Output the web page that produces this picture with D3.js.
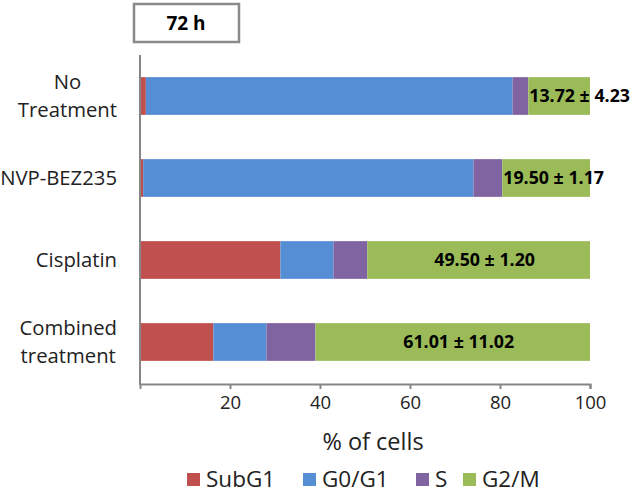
<!DOCTYPE html>
<html>
<head>
<meta charset="utf-8">
<script src="https://cdn.jsdelivr.net/npm/d3@7"></script>
<style>
  body { margin: 0; background: #fff; }
  svg { display: block; font-family: "Open Sans", "Noto Sans", sans-serif; }
</style>
</head>
<body>
<svg id="chart" width="633" height="493"></svg>
<script>
const categories = ["No Treatment", "NVP-BEZ235", "Cisplatin", "Combined treatment"];
const categoryLines = [["No", "Treatment"], ["NVP-BEZ235"], ["Cisplatin"], ["Combined", "treatment"]];
const seriesNames = ["SubG1", "G0/G1", "S", "G2/M"];
const subG1 = [1.3, 0.7, 31.2, 16.3];
const g0g1 = [81.5, 73.4, 11.8, 11.8];
const sPhase = [3.48, 6.4, 7.5, 10.89];
const g2m = [13.72, 19.50, 49.50, 61.01];
const g2mLabels = ["13.72 ± 4.23", "19.50 ± 1.17", "49.50 ± 1.20", "61.01 ± 11.02"];
const xTicks = [20, 40, 60, 80, 100];
const colors = ["#C0504D", "#558ED5", "#8064A2", "#9BBB59"];
const title = "72 h";

const svg = d3.select("#chart");
const x = d3.scaleLinear().domain([0, 100]).range([140, 590]);
const y = d3.scaleBand().domain(categories).range([55, 383]).paddingInner(0.54).paddingOuter(0.27);

const rows = categories.map((c, i) => {
  const vals = [subG1[i], g0g1[i], sPhase[i], g2m[i]];
  let acc = 0;
  return { cat: c, segs: vals.map((v, k) => { const s = { k, x0: acc, x1: acc + v, v }; acc += v; return s; }) };
});

// bars
const g = svg.append("g");
rows.forEach((r, i) => {
  g.selectAll(null).data(r.segs).enter().append("rect")
    .attr("x", d => x(d.x0))
    .attr("y", y(r.cat))
    .attr("width", d => Math.max(0, x(Math.min(d.x1, 100)) - x(d.x0)))
    .attr("height", y.bandwidth())
    .attr("fill", d => colors[d.k]);
});

// value labels on G2/M
rows.forEach((r, i) => {
  const s = r.segs[3];
  const t = svg.append("text")
    .attr("y", y(r.cat) + y.bandwidth() / 2)
    .attr("dy", "0.36em")
    .attr("font-size", 17.8)
    .attr("font-weight", "bold")
    .attr("fill", "#000")
    .text(g2mLabels[i]);
  const w = t.node().getComputedTextLength();
  const segW = x(Math.min(s.x1, 100)) - x(s.x0);
  if (w > segW - 4) {
    t.attr("x", x(s.x0) + 1).attr("text-anchor", "start");
  } else {
    t.attr("x", (x(s.x0) + x(Math.min(s.x1, 100))) / 2 + 6).attr("text-anchor", "middle");
  }
});

// x axis
const xAxis = d3.axisBottom(x).tickValues(xTicks).tickSize(5).tickSizeOuter(5).tickPadding(7);
const ax = svg.append("g").attr("transform", "translate(0,384)").call(xAxis);
ax.select(".domain").attr("stroke", "#868686").attr("stroke-width", 2);
ax.selectAll(".tick line").attr("stroke", "#868686").attr("stroke-width", 2);
ax.selectAll(".tick text").attr("font-size", 18.5).attr("fill", "#222").attr("font-family", "'Open Sans', sans-serif");

// y axis line
svg.append("line")
  .attr("x1", x(0)).attr("x2", x(0))
  .attr("y1", 55).attr("y2", 385)
  .attr("stroke", "#868686").attr("stroke-width", 2);

// category labels
categoryLines.forEach((lines, i) => {
  const cy = y(categories[i]) + y.bandwidth() / 2;
  const lh = 28;
  const texts = lines.map((l, j) => svg.append("text")
    .attr("font-size", 20.3)
    .attr("fill", "#222")
    .attr("text-anchor", "middle")
    .attr("y", cy + (j - (lines.length - 1) / 2) * lh)
    .attr("dy", "0.36em")
    .text(l));
  const maxW = d3.max(texts, t => t.node().getComputedTextLength());
  texts.forEach(t => t.attr("x", 117 - maxW / 2));
});

// axis title
svg.append("text")
  .attr("x", 373).attr("y", 450)
  .attr("text-anchor", "middle")
  .attr("font-size", 23.5)
  .attr("fill", "#222")
  .text("% of cells");

// legend
const legendX = [187, 303, 416, 463];
const lg = svg.append("g");
seriesNames.forEach((n, k) => {
  lg.append("rect").attr("x", legendX[k]).attr("y", 473).attr("width", 13).attr("height", 13).attr("fill", colors[k]);
  lg.append("text").attr("x", legendX[k] + 19).attr("y", 479.5).attr("dy", "0.35em")
    .attr("font-size", 22.5).attr("fill", "#222").text(n);
});

// title box
svg.append("rect").attr("x", 134).attr("y", 4).attr("width", 105).attr("height", 38)
  .attr("fill", "#fff").attr("stroke", "#8a8a8a").attr("stroke-width", 2.5);
svg.append("text").attr("x", 186).attr("y", 23).attr("dy", "0.36em")
  .attr("text-anchor", "middle").attr("font-size", 19).attr("font-weight", "bold")
  .attr("fill", "#000").text(title);
</script>
</body>
</html>
